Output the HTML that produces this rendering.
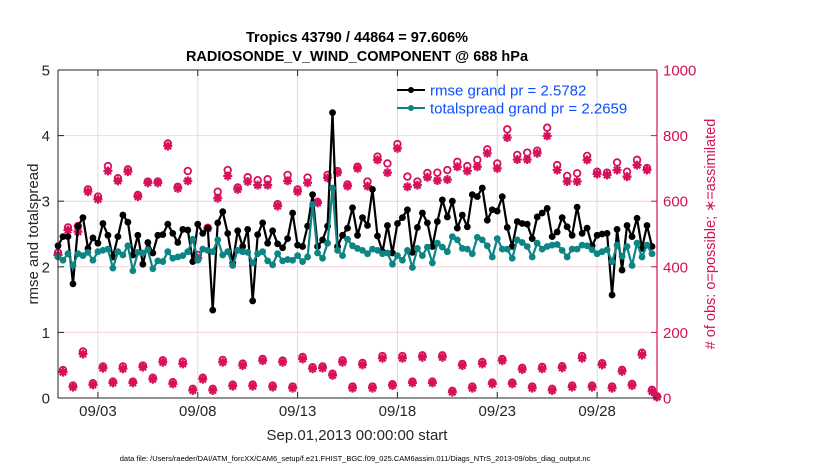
<!DOCTYPE html>
<html><head><meta charset="utf-8"><style>
html,body{margin:0;padding:0;background:#fff;}
svg{display:block;font-family:"Liberation Sans",sans-serif;}
</style></head><body>
<svg id="chart" width="830" height="470" viewBox="0 0 830 470" xmlns="http://www.w3.org/2000/svg">
<g id="grid"></g>
<g id="marks"></g>
<g id="axes"></g>
<text x="357" y="42" text-anchor="middle" font-size="14.5" font-weight="bold" fill="#000">Tropics 43790 / 44864 = 97.606%</text>
<text x="357" y="61" text-anchor="middle" font-size="14.5" font-weight="bold" fill="#000">RADIOSONDE_V_WIND_COMPONENT @ 688 hPa</text>
<text transform="translate(38,234) rotate(-90)" text-anchor="middle" font-size="15" fill="#262626">rmse and totalspread</text>
<text transform="translate(715,234) rotate(-90)" text-anchor="middle" font-size="14.5" fill="#d6105a"># of obs: o=possible; ∗=assimilated</text>
<text x="357" y="440" text-anchor="middle" font-size="15" fill="#262626">Sep.01,2013 00:00:00 start</text>
<text x="355" y="461" text-anchor="middle" font-size="7.5" fill="#000">data file: /Users/raeder/DAI/ATM_forcXX/CAM6_setup/f.e21.FHIST_BGC.f09_025.CAM6assim.011/Diags_NTrS_2013-09/obs_diag_output.nc</text>
<g>
<g>
<line x1="397" y1="90" x2="425" y2="90" stroke="#000" stroke-width="2"/><circle cx="411" cy="90" r="3" fill="#000"/>
<text x="430" y="95.5" font-size="15" fill="#0b4fff">rmse grand pr = 2.5782</text></g>
<g>
<line x1="397" y1="108" x2="425" y2="108" stroke="#0e8585" stroke-width="2"/><circle cx="411" cy="108" r="3" fill="#0e8585"/>
<text x="430" y="113.5" font-size="15" fill="#0b4fff">totalspread grand pr = 2.2659</text></g>
</g>
</svg>
<script>
const rmse=[2.32,2.46,2.46,1.74,2.62,2.75,2.28,2.44,2.36,2.66,2.48,2.15,2.46,2.79,2.68,2.18,2.48,2.04,2.37,2.21,2.48,2.49,2.65,2.51,2.37,2.57,2.56,2.08,2.65,2.51,2.59,1.34,2.67,2.84,2.51,2.06,2.55,2.31,2.57,1.48,2.49,2.67,2.36,2.55,2.35,2.29,2.43,2.82,2.33,2.31,2.62,3.10,2.31,2.41,2.62,4.35,2.31,2.48,2.59,2.90,2.48,2.75,2.63,3.18,2.47,2.23,2.63,2.21,2.66,2.75,2.87,2.22,2.60,2.82,2.67,2.31,2.69,3.02,2.76,3.00,2.59,2.79,2.61,3.10,3.07,3.20,2.71,2.87,2.85,3.07,2.60,2.31,2.69,2.66,2.65,2.43,2.76,2.82,2.89,2.46,2.53,2.75,2.61,2.48,2.91,2.51,2.59,2.32,2.48,2.50,2.51,1.57,2.57,1.95,2.63,2.46,2.74,2.28,2.63,2.31];
const spread=[2.15,2.10,2.20,2.02,2.20,2.17,2.22,2.10,2.23,2.25,2.27,1.98,2.23,2.18,2.32,1.94,2.22,2.21,2.26,1.97,2.09,2.08,2.23,2.13,2.15,2.17,2.23,2.42,2.10,2.27,2.25,2.23,2.41,2.18,2.23,2.02,2.25,2.23,2.22,2.06,2.20,2.23,2.09,2.03,2.20,2.09,2.11,2.10,2.17,2.08,2.15,2.95,2.21,2.13,2.36,3.20,2.25,2.17,2.42,2.32,2.28,2.25,2.20,2.27,2.25,2.20,2.21,2.04,2.17,2.10,2.25,1.99,2.28,2.17,2.30,2.06,2.36,2.30,2.23,2.46,2.41,2.28,2.27,2.20,2.45,2.41,2.32,2.15,2.43,2.27,2.27,2.13,2.41,2.37,2.31,2.15,2.36,2.27,2.31,2.33,2.34,2.25,2.15,2.27,2.27,2.33,2.32,2.26,2.20,2.23,2.26,2.08,2.33,2.16,2.31,2.02,2.36,2.15,2.33,2.20];
const obsAssim=[436,79,512,33,507,134,629,40,606,91,692,46,662,89,690,46,614,94,656,57,656,109,768,43,639,104,662,23,426,57,517,23,609,109,677,36,636,99,660,36,649,114,649,33,585,109,662,30,629,119,656,89,595,91,671,69,687,109,646,30,700,101,646,30,726,121,687,38,761,121,644,46,649,124,673,46,663,124,666,18,705,99,692,30,705,104,746,43,700,114,794,43,727,87,727,30,746,89,799,23,695,92,660,33,660,121,726,33,683,101,680,30,695,81,675,38,710,131,695,20,3];
const obsPossible=[443,85,520,38,524,142,636,45,614,96,707,50,670,96,697,50,619,99,660,62,660,115,776,48,644,111,692,28,436,62,519,28,629,116,695,41,642,105,673,41,664,119,667,38,591,114,680,35,636,125,672,94,598,96,680,74,692,115,651,35,705,107,660,35,736,128,715,42,774,128,675,50,660,130,686,50,687,130,695,22,720,104,707,35,726,110,758,47,715,119,819,47,741,92,748,35,754,95,824,28,710,97,677,38,685,128,738,38,690,106,687,35,718,86,690,43,726,138,701,25,5];
const dates=["09/03","09/08","09/13","09/18","09/23","09/28"];
const dateDays=[2,7,12,17,22,27];
const leftTicks=[0,1,2,3,4,5];
const rightTicks=[0,200,400,600,800,1000];

const X0=58,X1=657,Y0=398,Y1=70;
const xDay=d=>X0+(d/30)*(X1-X0);
const xIdx=k=>xDay(k*0.25);
const yL=v=>Y0-(v/5)*(Y0-Y1);
const yR=c=>Y0-(c/1000)*(Y0-Y1);
const NS="http://www.w3.org/2000/svg";
function mk(tag,attrs,parent){const e=document.createElementNS(NS,tag);for(const a in attrs)e.setAttribute(a,attrs[a]);parent.appendChild(e);return e;}
const grid=document.getElementById('grid'),marks=document.getElementById('marks'),axes=document.getElementById('axes');

dateDays.forEach((d,i)=>{
  const x=xDay(d);
  const g=mk('line',{x1:x,x2:x,y1:Y1,y2:Y0,stroke:'#dcdcdc','stroke-width':1},grid);
  
  
  mk('line',{x1:x,x2:x,y1:Y0,y2:Y0-6,stroke:'#262626','stroke-width':1},axes);
  mk('line',{x1:x,x2:x,y1:Y1,y2:Y1+6,stroke:'#262626','stroke-width':1},axes);
  const t=mk('text',{x:x,y:Y0+18,'text-anchor':'middle','font-size':15,fill:'#262626'},axes);
  t.textContent=dates[i];
  
  
});
leftTicks.forEach(v=>{
  const y=yL(v);
  if(v>0&&v<5){const g=mk('line',{x1:X0,x2:X1,y1:y,y2:y,stroke:'#f0d4de','stroke-width':1},grid);
  
  }
  mk('line',{x1:X0,x2:X0+6,y1:y,y2:y,stroke:'#262626'},axes);
  const t=mk('text',{x:X0-8,y:y+5.5,'text-anchor':'end','font-size':15,fill:'#262626'},axes);
  t.textContent=v;
  
  
});
rightTicks.forEach(v=>{
  const y=yR(v);
  mk('line',{x1:X1,x2:X1-6,y1:y,y2:y,stroke:'#d6105a'},axes);
  const t=mk('text',{x:X1+6,y:y+5.5,'font-size':15,fill:'#d6105a'},axes);
  t.textContent=v;
  
  
});
mk('line',{x1:X0,x2:X1,y1:Y0,y2:Y0,stroke:'#262626'},axes);
mk('line',{x1:X0,x2:X1,y1:Y1,y2:Y1,stroke:'#262626'},axes);
mk('line',{x1:X0,x2:X0,y1:Y1,y2:Y0,stroke:'#262626'},axes);
mk('line',{x1:X1,x2:X1,y1:Y1,y2:Y0,stroke:'#d6105a','stroke-width':1.2},axes);

const pink='#d6105a';
function star(x,y,p){
  const s=4.5,d=3.2;
  const pth=`M${x-s},${y}H${x+s}M${x},${y-s}V${y+s}M${x-d},${y-d}L${x+d},${y+d}M${x-d},${y+d}L${x+d},${y-d}`;
  const e=mk('path',{d:pth,stroke:pink,'stroke-width':2.2,fill:'none'},p);
  
  
}
obsPossible.forEach((c,k)=>{
  const e=mk('circle',{cx:xIdx(k),cy:yR(c),r:3.3,fill:'none',stroke:pink,'stroke-width':1.8},marks);
  
  
});
obsAssim.forEach((c,k)=>star(xIdx(k),yR(c),marks));

function series(vals,color,name){
  const pts=vals.map((v,k)=>xIdx(k).toFixed(1)+','+yL(v).toFixed(1)).join(' ');
  const l=mk('polyline',{points:pts,fill:'none',stroke:color,'stroke-width':2.2,'stroke-linejoin':'round'},marks);
  
  
  vals.forEach((v,k)=>{
    const c=mk('circle',{cx:xIdx(k),cy:yL(v),r:3.4,fill:color},marks);
    
    
  });
}
series(rmse,'#000','rmse');
series(spread,'#0e8585','totalspread');
</script>
</body></html>
